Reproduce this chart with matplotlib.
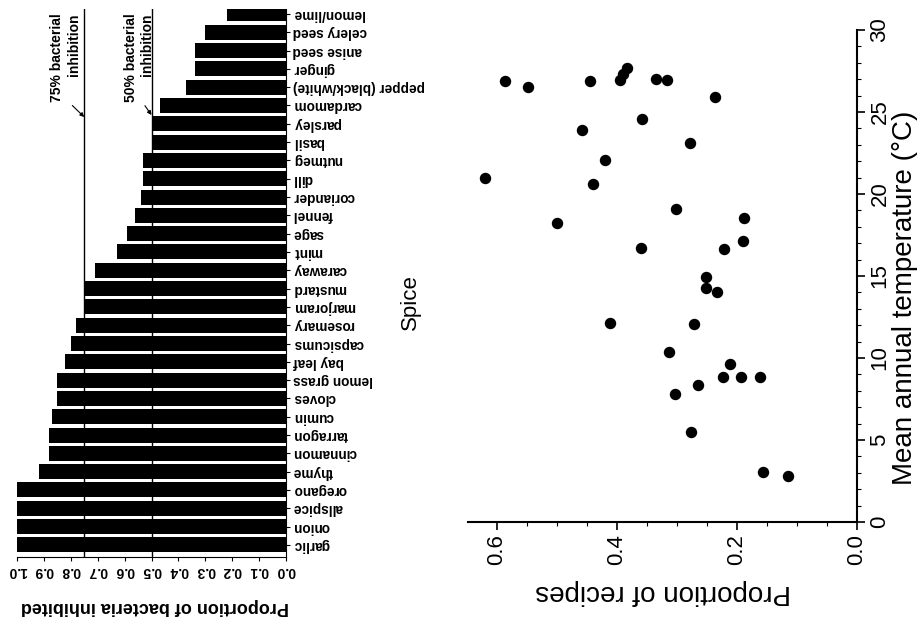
import numpy as np
import matplotlib
matplotlib.use("Agg")
import matplotlib.pyplot as plt
from matplotlib.ticker import MultipleLocator

plt.rcParams['font.family'] = ['Liberation Sans', 'DejaVu Sans']

# ---- data: spices (bottom to top) and proportion of bacteria inhibited
spices = ["garlic", "onion", "allspice", "oregano", "thyme", "cinnamon", "tarragon",
          "cumin", "cloves", "lemon grass", "bay leaf", "capsicums", "rosemary",
          "marjoram", "mustard", "caraway", "mint", "sage", "fennel", "coriander",
          "dill", "nutmeg", "basil", "parsley", "cardamom", "pepper (black/white)",
          "ginger", "anise seed", "celery seed", "lemon/lime"]
inhibited = [1.0, 1.0, 1.0, 1.0, 0.92, 0.88, 0.88, 0.87, 0.85, 0.85, 0.82, 0.80,
             0.78, 0.75, 0.75, 0.71, 0.63, 0.59, 0.56, 0.54, 0.53, 0.53, 0.50,
             0.50, 0.47, 0.37, 0.34, 0.34, 0.30, 0.22]
inhib_ticks = [0.0, 0.1, 0.2, 0.3, 0.4, 0.5, 0.6, 0.7, 0.8, 0.9, 1.0]
ref_lines = [0.75, 0.5]
ref_texts = ["75% bacterial\ninhibition", "50% bacterial\ninhibition"]

# ---- data: countries, proportion of recipes vs mean annual temperature
recipes = [0.587, 0.548, 0.445, 0.383, 0.390, 0.395, 0.335, 0.317, 0.237, 0.458,
           0.358, 0.278, 0.419, 0.619, 0.440, 0.301, 0.500, 0.188, 0.190, 0.360,
           0.221, 0.252, 0.252, 0.233, 0.412, 0.271, 0.313, 0.212, 0.223, 0.194,
           0.162, 0.265, 0.303, 0.277, 0.156, 0.115]
temperature = [26.9, 26.5, 26.9, 27.7, 27.3, 26.95, 27.0, 26.95, 25.9, 23.9,
               24.6, 23.1, 22.1, 21.0, 20.6, 19.1, 18.25, 18.55, 17.15, 16.7,
               16.65, 14.96, 14.25, 14.0, 12.15, 12.1, 10.35, 9.63, 8.82, 8.82,
               8.82, 8.35, 7.8, 5.47, 3.03, 2.82]
recipe_ticks = [0.0, 0.2, 0.4, 0.6]
temp_ticks = [0, 5, 10, 15, 20, 25, 30]

W, H = 922, 623
fig = plt.figure(figsize=(W / 100, H / 100), dpi=100)

# ================= left panel: bar chart (shown rotated) =================
ax1 = fig.add_axes([17 / W, (H - 557) / H, 269 / W, 548 / H])
ypos = np.arange(len(spices))
ax1.barh(ypos, inhibited, height=0.82, color='black')
ax1.set_xlim(1.0, 0.0)
ax1.set_ylim(-0.66, 29.27)
for v in ref_lines:
    ax1.axvline(v, color='black', lw=1.0, zorder=3)

ax1.spines['top'].set_visible(False)
ax1.spines['left'].set_visible(False)
ax1.yaxis.tick_right()
ax1.set_yticks(ypos)
ax1.set_yticklabels(spices, rotation=180, ha='left', va='center', fontsize=9.8,
                    fontweight='bold')
ax1.set_xticks(inhib_ticks)
ax1.set_xticklabels([f"{t:.1f}" for t in inhib_ticks], rotation=180, fontsize=10,
                    fontweight='bold')
ax1.tick_params(axis='both', direction='out', length=3, width=0.8, pad=2)
ax1.set_xlabel("Proportion of bacteria inhibited", fontsize=13, rotation=180,
               fontweight='bold')
ax1.xaxis.set_label_coords(0.513, -0.091)
ax1.xaxis.label.set_va('center')
ax1.set_ylabel("Spice", fontsize=16, rotation=90)
ax1.yaxis.set_label_position('right')
ax1.yaxis.set_label_coords(1.461, 0.465)
ax1.yaxis.label.set_va('center')
ax1.yaxis.label.set_ha('center')

text_x = [0.82, 0.546]
arrow_y = [23.37, 23.48]
for v, t, tx, ay in zip(ref_lines, ref_texts, text_x, arrow_y):
    ax1.annotate(t, xy=(v, ay), xytext=(tx, 29.05), rotation=90,
                 ha='center', va='top', multialignment='right', fontsize=10,
                 fontweight='bold', annotation_clip=False,
                 arrowprops=dict(arrowstyle='-|>', color='black', lw=0.8,
                                 mutation_scale=6, relpos=(0.6, 0.0),
                                 shrinkA=1, shrinkB=0))

# ================= right panel: scatter (shown rotated) =================
ax2 = fig.add_axes([468 / W, (H - 522) / H, 389 / W, 492 / H])
ax2.scatter(recipes, temperature, s=52, color='black', zorder=3)
ax2.set_xlim(0.648, 0.0)
ax2.set_ylim(0, 30)
ax2.spines['top'].set_visible(False)
ax2.spines['left'].set_visible(False)
ax2.spines['bottom'].set_linewidth(1.5)
ax2.spines['right'].set_linewidth(1.5)
ax2.yaxis.tick_right()
ax2.set_xticks(recipe_ticks)
ax2.set_xticklabels([f"{t:.1f}" for t in recipe_ticks], rotation=90, fontsize=16)
ax2.set_yticks(temp_ticks)
ax2.set_yticklabels([str(t) for t in temp_ticks], rotation=90, va='center', fontsize=16)
ax2.xaxis.set_minor_locator(MultipleLocator(0.05))
ax2.yaxis.set_minor_locator(MultipleLocator(1))
ax2.tick_params(which='major', direction='out', length=6, width=1.2, pad=3)
ax2.tick_params(which='minor', direction='out', length=3, width=0.8)
ax2.set_xlabel("Proportion of recipes", fontsize=20, rotation=180)
ax2.xaxis.set_label_coords(0.501, -0.142)
ax2.xaxis.label.set_va('center')
ax2.set_ylabel("Mean annual temperature (°C)", fontsize=20, rotation=90)
ax2.yaxis.set_label_position('right')
ax2.yaxis.set_label_coords(1.123, 0.455)
ax2.yaxis.label.set_va('center')
ax2.yaxis.label.set_ha('center')

fig.savefig("out.png", dpi=100)
